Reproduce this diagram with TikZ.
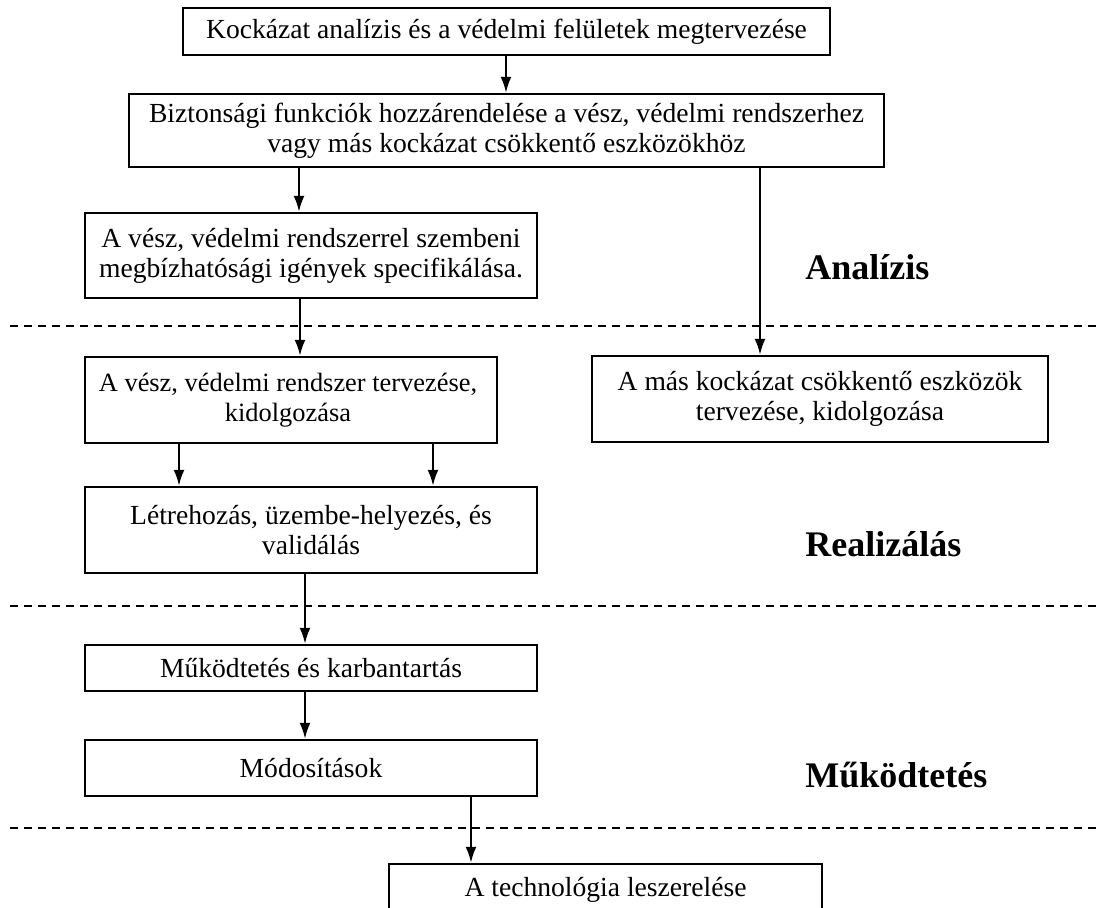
\documentclass[tikz,border=0pt]{standalone}
\usepackage{fontspec}
\setmainfont{Liberation Serif}
\usetikzlibrary{arrows.meta}
\begin{document}
\begin{tikzpicture}[x=0.5pt,y=-0.5pt,
  box/.style={draw, line width=1.2pt, inner sep=0pt, align=center,
    font=\fontsize{13.8}{15}\selectfont},
  arr/.style={line width=1.1pt, -{Latex[length=8pt,width=5.5pt]}},
  sep/.style={line width=1.2pt, dash pattern=on 4pt off 3pt},
  phase/.style={anchor=base west, inner sep=0pt, font=\fontsize{18}{20}\selectfont\bfseries}]
\useasboundingbox (0,0) rectangle (1099,908);
\clip (0,0) rectangle (1099,908);
% boxes
\node[box, minimum width=323.5pt, minimum height=23.5pt] (b1) at (506.5,31.5)
  {Kockázat analízis és a védelmi felületek megtervezése};
\node[box, minimum width=377.5pt, minimum height=36.5pt] (b2) at (506.5,130.5)
  {Biztonsági funkciók hozzárendelése a vész, védelmi rendszerhez\\vagy más kockázat csökkentő eszközökhöz};
\node[box, minimum width=226pt, minimum height=42.5pt] (b3) at (311,255.5)
  {A vész, védelmi rendszerrel szembeni\\megbízhatósági igények specifikálása.};
\node[box, minimum width=206pt, minimum height=43pt, font=\fontsize{13.2}{15}\selectfont] (b4) at (291,400)
  {A vész, védelmi rendszer tervezése,\hspace*{3pt}\\kidolgozása\hspace*{3pt}};
\node[box, minimum width=228pt, minimum height=43pt] (b5) at (820,399)
  {A más kockázat csökkentő eszközök\\tervezése, kidolgozása};
\node[box, minimum width=226pt, minimum height=43pt] (b6) at (311,530)
  {Létrehozás, üzembe-helyezés, és\\validálás};
\node[box, minimum width=226pt, minimum height=23pt] (b7) at (311,668)
  {Működtetés és karbantartás};
\node[box, minimum width=226pt, minimum height=28pt] (b8) at (311,768)
  {Módosítások};
\node[box, minimum width=216.5pt, minimum height=43pt] (b9) at (605.5,907)
  {};
\node[font=\fontsize{13.8}{15}\selectfont, anchor=base, inner sep=0pt] (t9) at (605.5,897)
  {A technológia leszerelése};
% phase separators
\coordinate (d1a) at (10,326); \coordinate (d1b) at (1099,326);
\coordinate (d2a) at (10,606); \coordinate (d2b) at (1099,606);
\coordinate (d3a) at (10,828); \coordinate (d3b) at (1099,828);
\draw[sep] (d1a) -- (d1b);
\draw[sep] (d2a) -- (d2b);
\draw[sep] (d3a) -- (d3b);
% phase labels
\node[phase] (pa) at (805,280) {Analízis};
\node[phase] (pr) at (805,557) {Realizálás};
\node[phase] (pm) at (805,788) {Működtetés};
% arrows
\draw[arr] (b1.south -| 506,0) -- (b2.north -| 506,0);
\draw[arr] (b2.south -| 299,0) -- (b3.north -| 299,0);
\draw[arr] (b2.south -| 760,0) -- (b5.north -| 760,0);
\draw[arr] (b3.south -| 300,0) -- (b4.north -| 300,0);
\draw[arr] (b4.south -| 179,0) -- (b6.north -| 179,0);
\draw[arr] (b4.south -| 433,0) -- (b6.north -| 433,0);
\draw[arr] (b6.south -| 305,0) -- (b7.north -| 305,0);
\draw[arr] (b7.south -| 305,0) -- (b8.north -| 305,0);
\draw[arr] (b8.south -| 471,0) -- (b9.north -| 471,0);
\end{tikzpicture}
\end{document}
